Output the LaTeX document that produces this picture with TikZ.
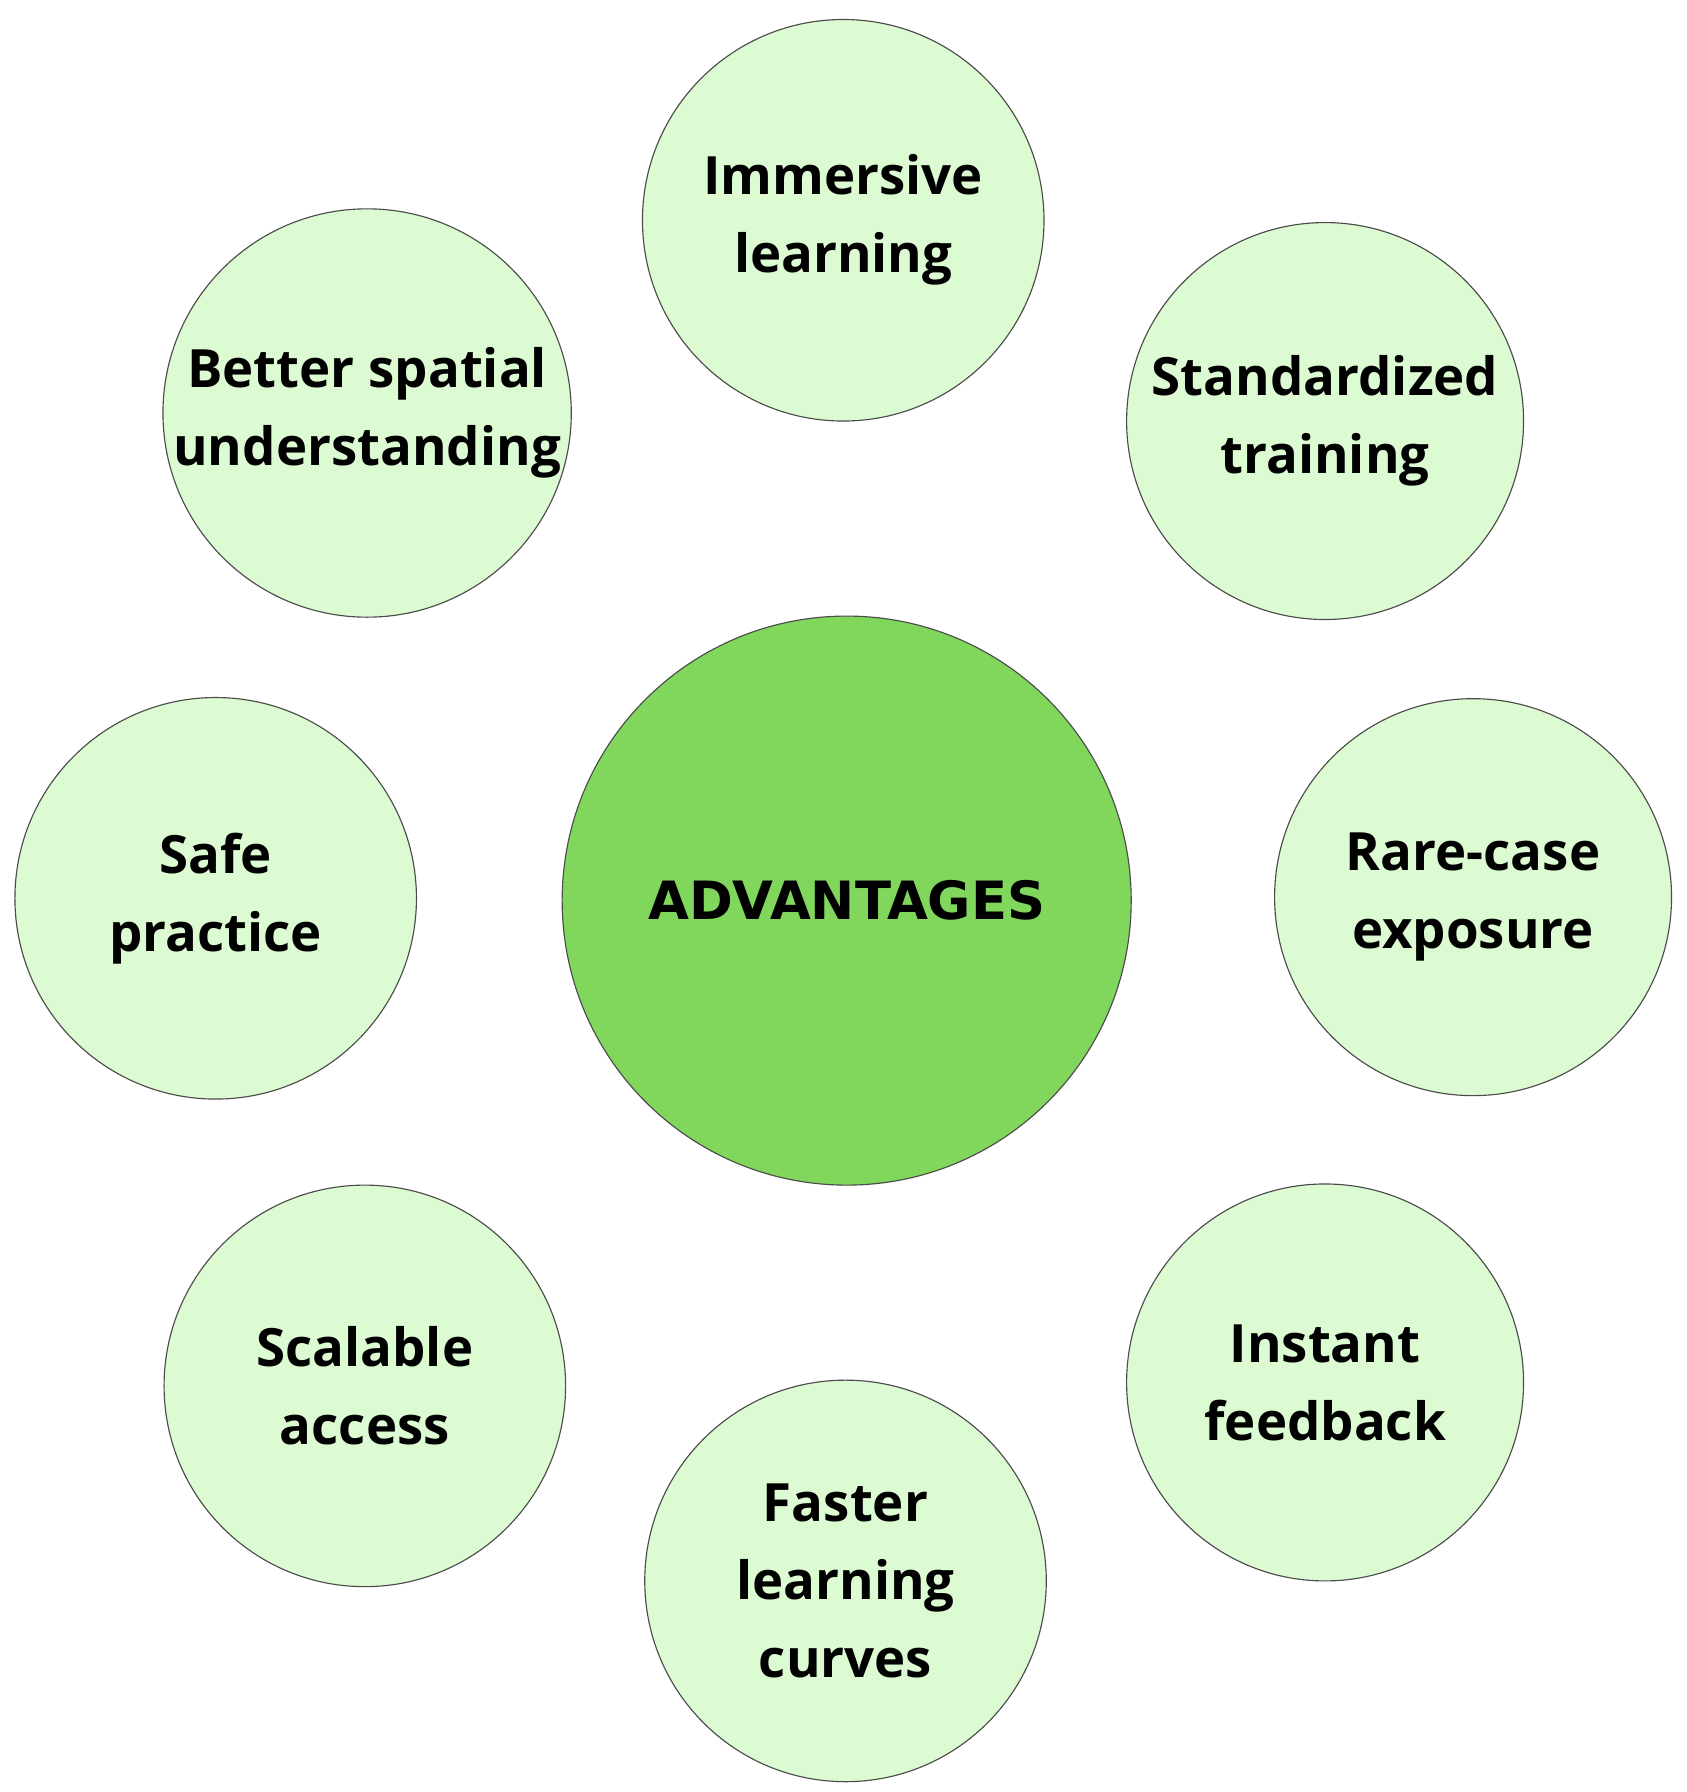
\documentclass[tikz,border=0pt]{standalone}
\usepackage{fontspec}
\setmainfont{Open Sans}
\newfontfamily\heavy{DejaVu Sans}
\definecolor{lightg}{HTML}{DDFBD2}
\definecolor{darkg}{HTML}{80D75C}
\begin{document}
\begin{tikzpicture}[x=0.5pt,y=-0.5pt,
  item/.style={circle,draw=black!70,line width=0.5pt,fill=lightg,align=center,
    font=\fontsize{23}{34}\selectfont\bfseries,inner sep=0pt},
  hub/.style={circle,draw=black!70,line width=0.5pt,fill=darkg,align=center,
    font=\heavy\fontsize{23}{28}\selectfont\bfseries,inner sep=0pt}]
\useasboundingbox (0,0) rectangle (1470,1562);
\node[item,minimum size=175pt] (imm) at (735,192) {Immersive\\learning};
\node[item,minimum size=177pt] (bet) at (320,360) {Better spatial\\understanding};
\node[item,minimum size=173pt] (std) at (1155,367) {Standardized\\training};
\node[item,minimum size=175pt] (safe) at (188,783) {Safe\\practice};
\node[hub,minimum size=248pt] (adv) at (738,785) {ADVANTAGES};
\node[item,minimum size=173pt] (rare) at (1284,782) {Rare-case\\exposure};
\node[item,minimum size=175pt] (sca) at (318,1208) {Scalable\\access};
\node[item,minimum size=173pt] (ins) at (1155,1205) {Instant\\feedback};
\node[item,minimum size=175pt] (fast) at (737,1378) {Faster\\learning\\curves};
\end{tikzpicture}
\end{document}
